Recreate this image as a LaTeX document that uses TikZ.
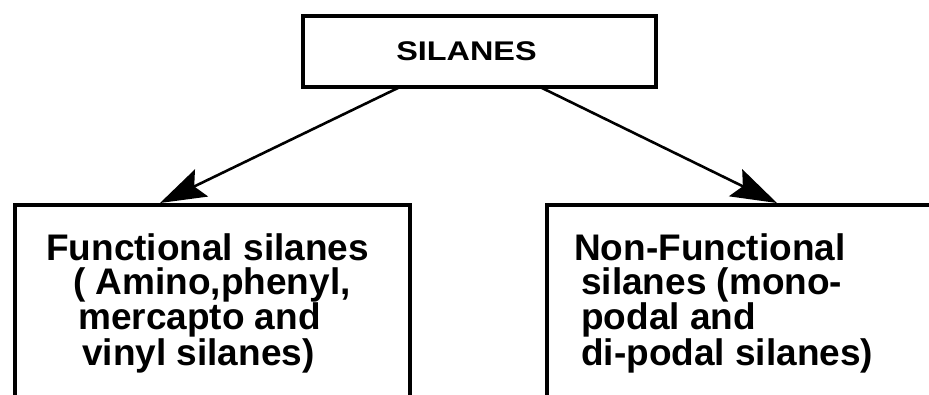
\documentclass[tikz,border=0pt]{standalone}
\usepackage{fontspec}
\setmainfont{Liberation Sans}
\usetikzlibrary{arrows.meta}

\tikzset{
  framebox/.style={draw, line width=3.2pt, inner sep=0pt, outer sep=0pt},
  boxtext/.style={font=\bfseries\fontsize{37}{34}\selectfont, align=left,
    inner sep=0pt, anchor=base west},
  branch/.style={line width=2.6pt, -{Stealth[length=46pt, width=30pt, inset=8pt]}}
}

\begin{document}
\begin{tikzpicture}[x=1pt, y=-1pt]
\def\W{929}
\def\H{394}
\useasboundingbox (0,0) rectangle (\W,\H);
\clip (0,0) rectangle (\W,\H);

  \node[framebox, minimum width=353pt, minimum height=71pt,
    font=\bfseries\fontsize{27}{30}\selectfont] (silanes) at (479.5,51.5)
    {\hspace*{-26pt}\scalebox{1.2}[1]{SILANES}};

  \node[framebox, anchor=north west, minimum width=395pt, minimum height=240pt]
    (functional) at (15,205) {};
  \node[framebox, anchor=north west, minimum width=450pt, minimum height=240pt]
    (nonfunctional) at (547,205) {};

  \node[boxtext] (functionaltext) at (46,365)
    {Functional silanes\\
     \hspace*{27pt}( Amino,phenyl,\\
     \hspace*{32pt}mercapto and\\
     \hspace*{36pt}vinyl silanes)};
  \node[boxtext] (nonfunctionaltext) at (574,365)
    {Non-Functional\\
     \hspace*{7pt}silanes (mono-\\
     \hspace*{7pt}podal and\\
     \hspace*{7pt}di-podal silanes)};

  \draw[branch] ([xshift=-79.5pt]silanes.south) -- ([xshift=145pt, yshift=2pt]functional.north west);
  \draw[branch] ([xshift=60.5pt]silanes.south) -- ([xshift=230pt, yshift=2pt]nonfunctional.north west);
\end{tikzpicture}
\end{document}
